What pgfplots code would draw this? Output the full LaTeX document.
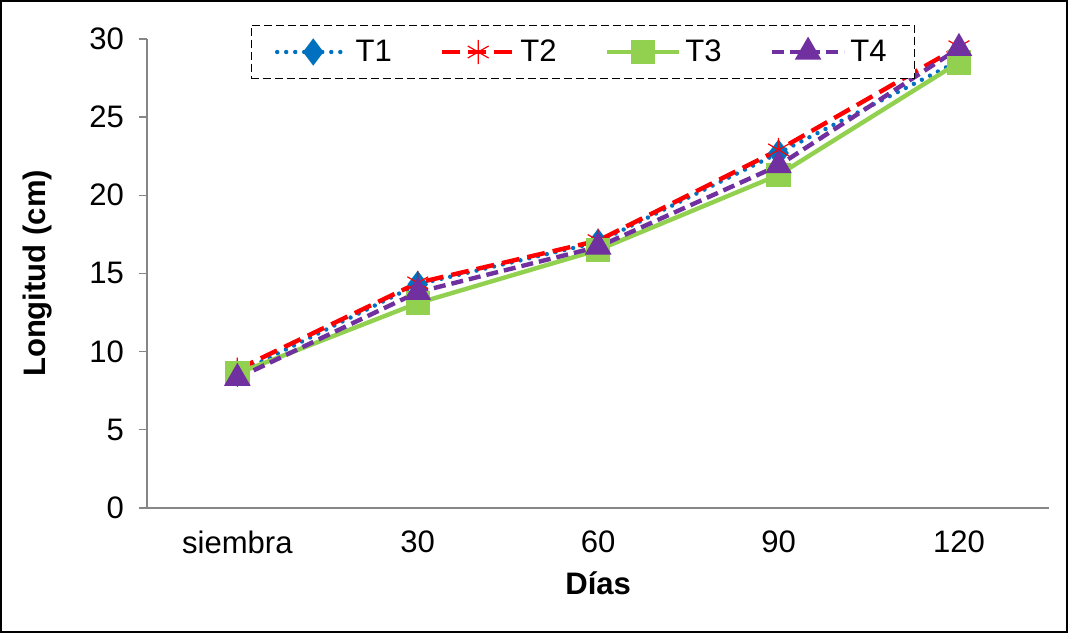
\documentclass[border=0pt]{standalone}
\usepackage{pgfplots}
\pgfplotsset{compat=1.18}
\usepackage{fontspec}
\setmainfont{Liberation Sans}
\definecolor{tA}{RGB}{0,112,192}
\definecolor{tB}{RGB}{255,0,0}
\definecolor{tC}{RGB}{146,208,80}
\definecolor{tD}{RGB}{112,48,160}
\definecolor{axgray}{RGB}{134,134,134}

\pgfplotstableread{
x T1 T2 T3 T4
0 8.6 8.85 8.6 8.3
1 14.3 14.4 13.1 13.8
2 17.0 17.1 16.5 16.7
3 22.7 22.9 21.3 21.9
4 28.6 29.5 28.5 29.4
}\datos

\begin{document}
\begin{tikzpicture}
\begin{axis}[
  scale only axis,
  width=450pt, height=234pt,
  xmin=-0.5, xmax=4.5,
  ymin=0, ymax=30,
  ytick={0,5,...,30},
  xtick={0,1,2,3,4},
  xticklabels={siembra,30,60,90,120},
  minor xtick={-0.5,0.5,1.5,2.5,3.5,4.5},
  axis x line*=bottom,
  axis y line*=left,
  axis line style={axgray, line width=0.7pt, -},
  x tick style={draw=none},
  minor x tick style={axgray, line width=0.7pt},
  y tick style={axgray, line width=0.7pt},
  tick align=outside,
  major tick length=4pt,
  minor tick length=4pt,
  tick label style={font=\fontsize{15.5}{18}\selectfont, black},
  xticklabel style={yshift=-4pt},
  yticklabel style={xshift=-4pt},
  /pgf/number format/assume math mode=true,
  xlabel={\textbf{Días}},
  ylabel={\textbf{Longitud (cm)}},
  label style={font=\fontsize{15.5}{18}\selectfont},
  xlabel style={yshift=-2pt},
  ylabel style={yshift=12pt},
  legend columns=4,
  legend style={at={(0.483,0.972)}, anchor=center, draw=black,
    dash pattern=on 4pt off 2pt,
    fill=white, font=\fontsize{15.5}{18}\selectfont,
    /tikz/every even column/.append style={column sep=22pt},
    inner xsep=12pt, inner ysep=5pt},
  legend image code/.code={%
    \draw[mark repeat=2, mark phase=2] plot coordinates {(0pt,0pt) (18pt,0pt) (36pt,0pt)};},
  clip=false,
]
\addplot[tA, line width=2.2pt, dash pattern=on 0pt off 4.5pt, line cap=round,
  mark=diamond*, mark size=5pt,
  mark options={solid, fill=tA}] table[x=x, y=T1] {\datos};
\addlegendentry{T1}
\addplot[tB, line width=2.2pt, dash pattern=on 9pt off 4pt, mark=asterisk, mark size=6pt,
  mark options={solid, line width=0.6pt}] table[x=x, y=T2] {\datos};
\addlegendentry{T2}
\addplot[tC, line width=2.2pt, mark=square*, mark size=5pt,
  mark options={solid, fill=tC}] table[x=x, y=T3] {\datos};
\addlegendentry{T3}
\addplot[tD, line width=2.2pt, dash pattern=on 6pt off 3pt, mark=triangle*, mark size=5.5pt,
  mark options={solid, fill=tD}] table[x=x, y=T4] {\datos};
\addlegendentry{T4}
\draw[black, line width=0.8pt, solid]
  ([xshift=-73pt,yshift=-62pt]rel axis cs:0,0) rectangle
  ([xshift=9pt,yshift=19pt]rel axis cs:1,1);
\end{axis}
\end{tikzpicture}
\end{document}
